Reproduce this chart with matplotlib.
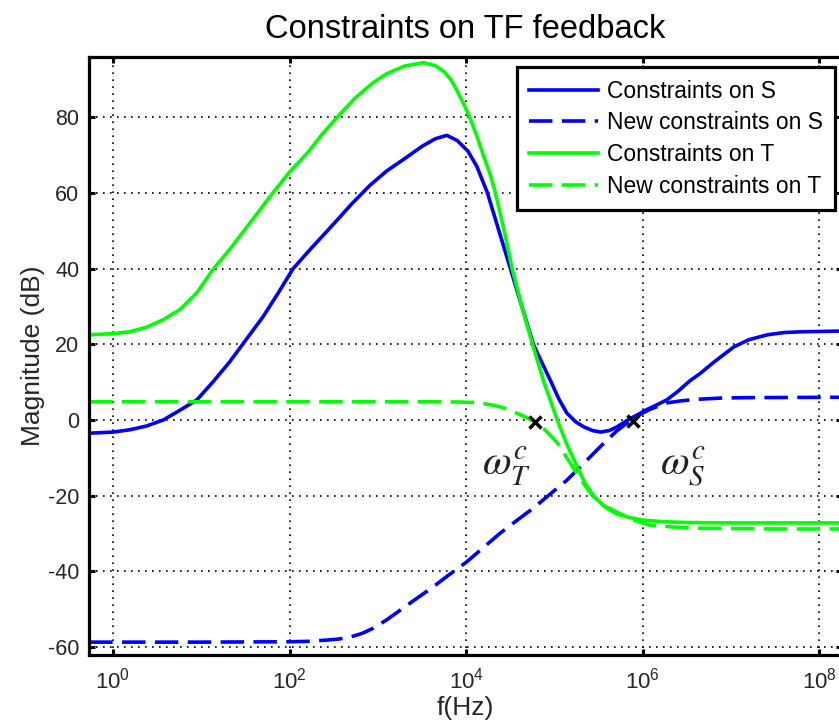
import numpy as np
import matplotlib
matplotlib.use("Agg")
import matplotlib.pyplot as plt

# values (log10 of frequency, magnitude in dB)
lf_s = [-0.27, 0.0, 0.19, 0.38, 0.57, 0.76, 0.95, 1.13, 1.32, 1.5, 1.7, 1.87, 2.04, 2.25, 2.46, 2.7,
        2.91, 3.1, 3.3, 3.5, 3.65, 3.78, 3.9, 4.02, 4.12, 4.24, 4.37, 4.5, 4.63, 4.76, 4.86, 4.95,
        5.05, 5.14, 5.24, 5.33, 5.43, 5.52, 5.62, 5.71, 5.83, 5.95, 6.05, 6.16, 6.27, 6.4, 6.53,
        6.65, 6.8, 7.03, 7.2, 7.41, 7.6, 7.8, 8.26]
mag_s = [-3.5, -3.2, -2.6, -1.6, 0, 2.6, 5.3, 10, 15.3, 21, 27.3, 33.5, 40, 45.5, 50.8, 57,
         62, 65.8, 69, 72.3, 74.3, 75.2, 73.8, 71, 67, 60, 50, 40, 30, 20, 15, 10.6,
         5.5, 1.8, -0.5, -1.8, -2.8, -3.2, -2.8, -1.8, 0, 1.5, 2.8, 4, 5.3, 7.6, 10.3,
         12.3, 15.2, 19.3, 21.2, 22.5, 23.1, 23.3, 23.5]

lf_t = [-0.27, 0.0, 0.19, 0.38, 0.57, 0.76, 0.95, 1.13, 1.32, 1.55, 1.81, 2.0, 2.2, 2.37, 2.54, 2.74,
        2.94, 3.1, 3.3, 3.51, 3.65, 3.75, 3.83, 3.9, 3.97, 4.04, 4.12, 4.2, 4.27, 4.33, 4.43, 4.52,
        4.63, 4.75, 4.88, 5.03, 5.14, 5.25, 5.34, 5.44, 5.57, 5.7, 5.85, 6.0, 6.25, 6.5, 7.0, 8.26]
mag_t = [22.5, 22.8, 23.3, 24.5, 26.5, 29.2, 33.6, 39.7, 45, 52, 60, 65.5, 70.5, 75.5, 80, 85,
         89, 91.5, 93.5, 94.4, 93.6, 92, 89.8, 86.8, 83.5, 80, 75, 69.5, 65, 60, 50, 40,
         30, 20, 10, 0, -6.5, -12, -16.5, -20, -23, -24.8, -25.8, -26.5, -26.9, -27.1, -27.2, -27.2]

lf_s_new = [-0.27, 1.0, 2.0, 2.2, 2.4, 2.55, 2.68, 2.82, 2.95, 3.1, 3.25, 3.43, 3.62, 3.8, 4.0,
            4.19, 4.38, 4.57, 4.76, 4.95, 5.14, 5.33, 5.52, 5.7, 5.89, 6.08, 6.27, 6.45, 6.65,
            6.9, 7.2, 8.26]
mag_s_new = [-58.7, -58.7, -58.6, -58.5, -58.2, -57.9, -57.4, -56.4, -55, -52.8, -50.3, -47.3,
             -44.2, -41, -37.6, -33.8, -30, -26.6, -23.3, -19.6, -15.9, -11.5, -7, -3, 0.5, 2.8,
             4.5, 5.1, 5.5, 5.8, 5.9, 6.0]

lf_t_new = [-0.27, 2.0, 3.5, 3.9, 4.1, 4.2, 4.3, 4.38, 4.48, 4.57, 4.68, 4.78, 4.9, 5.03, 5.14,
            5.25, 5.35, 5.44, 5.57, 5.71, 5.9, 6.08, 6.35, 6.65, 7.5, 8.26]
mag_t_new = [4.8, 4.8, 4.8, 4.75, 4.6, 4.3, 3.9, 3.5, 2.7, 1.8, 0.7, -0.5, -2.8, -6, -10,
             -14, -17.5, -20.3, -22.8, -24.4, -26.5, -27.8, -28.3, -28.6, -28.8, -28.8]

cross_lf = [4.78, 5.89]
cross_mag = [-0.5, -0.3]

labels = ['Constraints on S', 'New constraints on S', 'Constraints on T', 'New constraints on T']

plt.rcParams['font.family'] = ['Liberation Sans', 'DejaVu Sans']
plt.rcParams['mathtext.fontset'] = 'stix'
plt.rcParams['axes.unicode_minus'] = False

fig = plt.figure(figsize=(8.39, 7.27), dpi=100)
ax = fig.add_axes([89 / 839, 1 - 655 / 727, (842 - 89) / 839, (655 - 57) / 727])

lw = 2.6
dash = (6.5, 2.6)
ax.plot(10 ** np.array(lf_s), mag_s, color='#0000ff', lw=lw, label=labels[0])
ax.plot(10 ** np.array(lf_s_new), mag_s_new, color='#0000ff', lw=lw, dashes=dash, label=labels[1])
ax.plot(10 ** np.array(lf_t), mag_t, color='#00ff00', lw=lw, label=labels[2])
ax.plot(10 ** np.array(lf_t_new), mag_t_new, color='#00ff00', lw=lw, dashes=dash, label=labels[3])
ax.plot(10 ** np.array(cross_lf), cross_mag, 'x', color='black', ms=8, mew=2.5, zorder=5)

ax.text(10 ** 4.46, -12.2, r'$\omega_T^c$', fontsize=30, color='#2a2018', ha='center', va='center')
ax.text(10 ** 6.45, -12.4, r'$\omega_S^c$', fontsize=30, color='#2a2018', ha='center', va='center')

ax.set_xscale('log')
ax.set_xlim(0.535, 1.8e8)
ax.set_ylim(-62.1, 95.9)
ax.set_xticks([1, 1e2, 1e4, 1e6, 1e8])
ax.xaxis.set_minor_locator(matplotlib.ticker.NullLocator())
ax.set_yticks(np.arange(-60, 81, 20))

ax.grid(True, color='black', linestyle=(0, (1, 3.2)), linewidth=1.2)
for s in ax.spines.values():
    s.set_linewidth(2.3)
ax.tick_params(direction='in', length=4, width=2.2, top=True, right=True,
               labelsize=15.5, labelcolor='#262626', pad=7)
ax.tick_params(axis='x', pad=9, labelsize=16)

ax.set_title('Constraints on TF feedback', fontsize=23.5, pad=14)
ax.set_xlabel('f(Hz)', fontsize=19, color='#262626', labelpad=2)
ax.set_ylabel('Magnitude (dB)', fontsize=19, color='#262626', labelpad=2)

leg = ax.legend(loc='upper left', bbox_to_anchor=(0.568, 0.983), borderaxespad=0, fontsize=16.4,
                fancybox=False, framealpha=1, edgecolor='black', handlelength=3.0,
                handletextpad=0.4, labelspacing=0.38, borderpad=0.55)
leg.get_frame().set_linewidth(2.3)

fig.savefig('out.png', dpi=100)
